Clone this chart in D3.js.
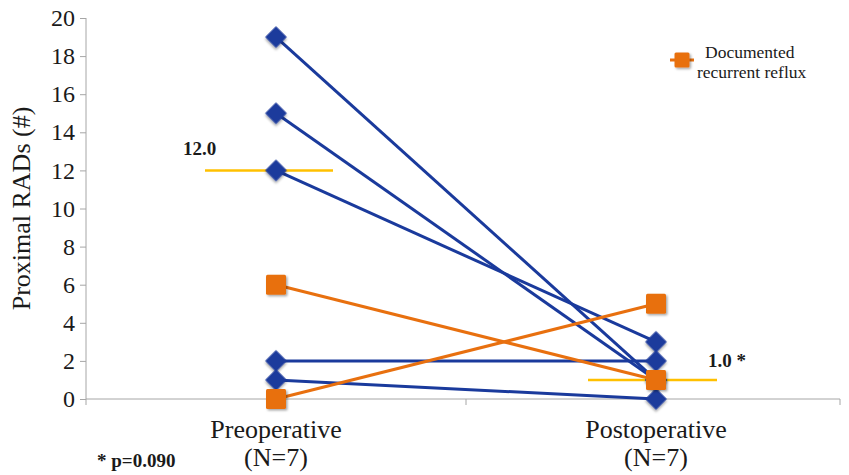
<!DOCTYPE html>
<html><head><meta charset="utf-8">
<script src="https://cdn.jsdelivr.net/npm/d3@7"></script>
<style>body{margin:0;background:#fff}svg{display:block}svg text{font-family:"Liberation Serif","Times New Roman",serif !important}</style>
</head><body>
<script>
const categories = ["Preoperative", "Postoperative"];
const subLabels = ["(N=7)", "(N=7)"];
const yTicks = [0,2,4,6,8,10,12,14,16,18,20];
// each patient: [pre, post]
const bluePatients = [[19,1],[15,1],[12,3],[2,2],[1,0]];
const orangePatients = [[6,1],[0,5]];
const means = [12.0, 1.0];
const meanLabels = ["12.0", "1.0 *"];
const legendLabel = ["Documented", "recurrent reflux"];
const pNote = "* p=0.090";

const W=849,H=475;
const svg=d3.select("body").append("svg").attr("width",W).attr("height",H);
const font="Liberation Serif";
const x=d3.scaleBand().domain(categories).range([86,846]).padding(0);
const y=d3.scaleLinear().domain([0,20]).range([399,18]);
const blue="#1a3a9c", orange="#e8700f", yellow="#ffc000", axisC="#a6a6a6", txt="#1a1a1a";
const cx=c=>x(c)+x.bandwidth()/2;

const defs=svg.append("defs");
const f=defs.append("filter").attr("id","sh").attr("x","-50%").attr("y","-50%").attr("width","200%").attr("height","200%");
f.append("feDropShadow").attr("dx",1.5).attr("dy",1.5).attr("stdDeviation",1.2).attr("flood-color","#000").attr("flood-opacity",0.35);

// y axis
const ya=svg.append("g").attr("transform","translate(86,0)").call(d3.axisLeft(y).tickValues(yTicks).tickSize(6).tickPadding(5));
ya.select(".domain").attr("stroke",axisC).attr("d","M0,"+y(20)+"V"+y(0));
ya.selectAll(".tick line").attr("stroke",axisC);
ya.selectAll(".tick text").attr("font-family",font).attr("font-size",24).attr("fill",txt);

// x axis
const xa=svg.append("g").attr("transform","translate(0,"+y(0)+")").call(d3.axisBottom(x).tickSize(0).tickFormat(""));
xa.select(".domain").attr("stroke",axisC).attr("d","M86,0H840");
[86, x(categories[1]), 840].forEach(v=>svg.append("line").attr("x1",v).attr("x2",v).attr("y1",y(0)).attr("y2",y(0)+6).attr("stroke",axisC));

categories.forEach((c,i)=>{
  svg.append("text").attr("x",cx(c)).attr("y",438).attr("text-anchor","middle").attr("font-family",font).attr("font-size",26).attr("fill",txt).text(c);
  svg.append("text").attr("x",cx(c)).attr("y",466).attr("text-anchor","middle").attr("font-family",font).attr("font-size",26).attr("fill",txt).text(subLabels[i]);
});
svg.append("text").attr("transform","translate(30,"+((y(0)+y(20))/2)+") rotate(-90)").attr("text-anchor","middle").attr("font-family",font).attr("font-size",26).attr("fill",txt).text("Proximal RADs (#)");
svg.append("text").attr("x",97).attr("y",467).attr("font-family",font).attr("font-size",19).attr("font-weight","bold").attr("fill",txt).text(pNote);

// lines
const line=d=>d3.line()([[cx(categories[0]),y(d[0])],[cx(categories[1]),y(d[1])]]);
bluePatients.forEach(d=>svg.append("path").attr("d",line(d)).attr("stroke",blue).attr("stroke-width",3).attr("fill","none"));
orangePatients.forEach(d=>svg.append("path").attr("d",line(d)).attr("stroke",orange).attr("stroke-width",3).attr("fill","none"));

// mean lines
const meanX=[[205,333],[588,717]];
means.forEach((m,i)=>{
  svg.append("line").attr("x1",meanX[i][0]).attr("x2",meanX[i][1]).attr("y1",y(m)).attr("y2",y(m)).attr("stroke",yellow).attr("stroke-width",2.5);
});
svg.append("text").attr("x",183).attr("y",y(means[0])-15).attr("font-family",font).attr("font-size",19).attr("font-weight","bold").attr("fill",txt).text(meanLabels[0]);
svg.append("text").attr("x",708).attr("y",y(means[1])-13).attr("font-family",font).attr("font-size",19).attr("font-weight","bold").attr("fill",txt).text(meanLabels[1]);

// markers
function drawDiamond(px,py){svg.append("path").attr("d",d3.symbol().type(d3.symbolSquare).size(235)()).attr("transform","translate("+px+","+py+") rotate(45)").attr("fill",blue).attr("filter","url(#sh)");}
function drawSquare(px,py,s){svg.append("rect").attr("x",px-s/2).attr("y",py-s/2).attr("width",s).attr("height",s).attr("rx",1.5).attr("fill",orange).attr("filter","url(#sh)");}
bluePatients.forEach(d=>{drawDiamond(cx(categories[0]),y(d[0]));drawDiamond(cx(categories[1]),y(d[1]));});
orangePatients.forEach(d=>{drawSquare(cx(categories[0]),y(d[0]),20);drawSquare(cx(categories[1]),y(d[1]),20);});

// legend
svg.append("line").attr("x1",670).attr("x2",694).attr("y1",60).attr("y2",60).attr("stroke",orange).attr("stroke-width",3);
drawSquare(682,60,15);
svg.append("text").attr("x",705).attr("y",58).attr("font-family",font).attr("font-size",17.5).attr("fill",txt).text(legendLabel[0]);
svg.append("text").attr("x",697).attr("y",78).attr("font-family",font).attr("font-size",17.5).attr("fill",txt).text(legendLabel[1]);
</script>
</body></html>
